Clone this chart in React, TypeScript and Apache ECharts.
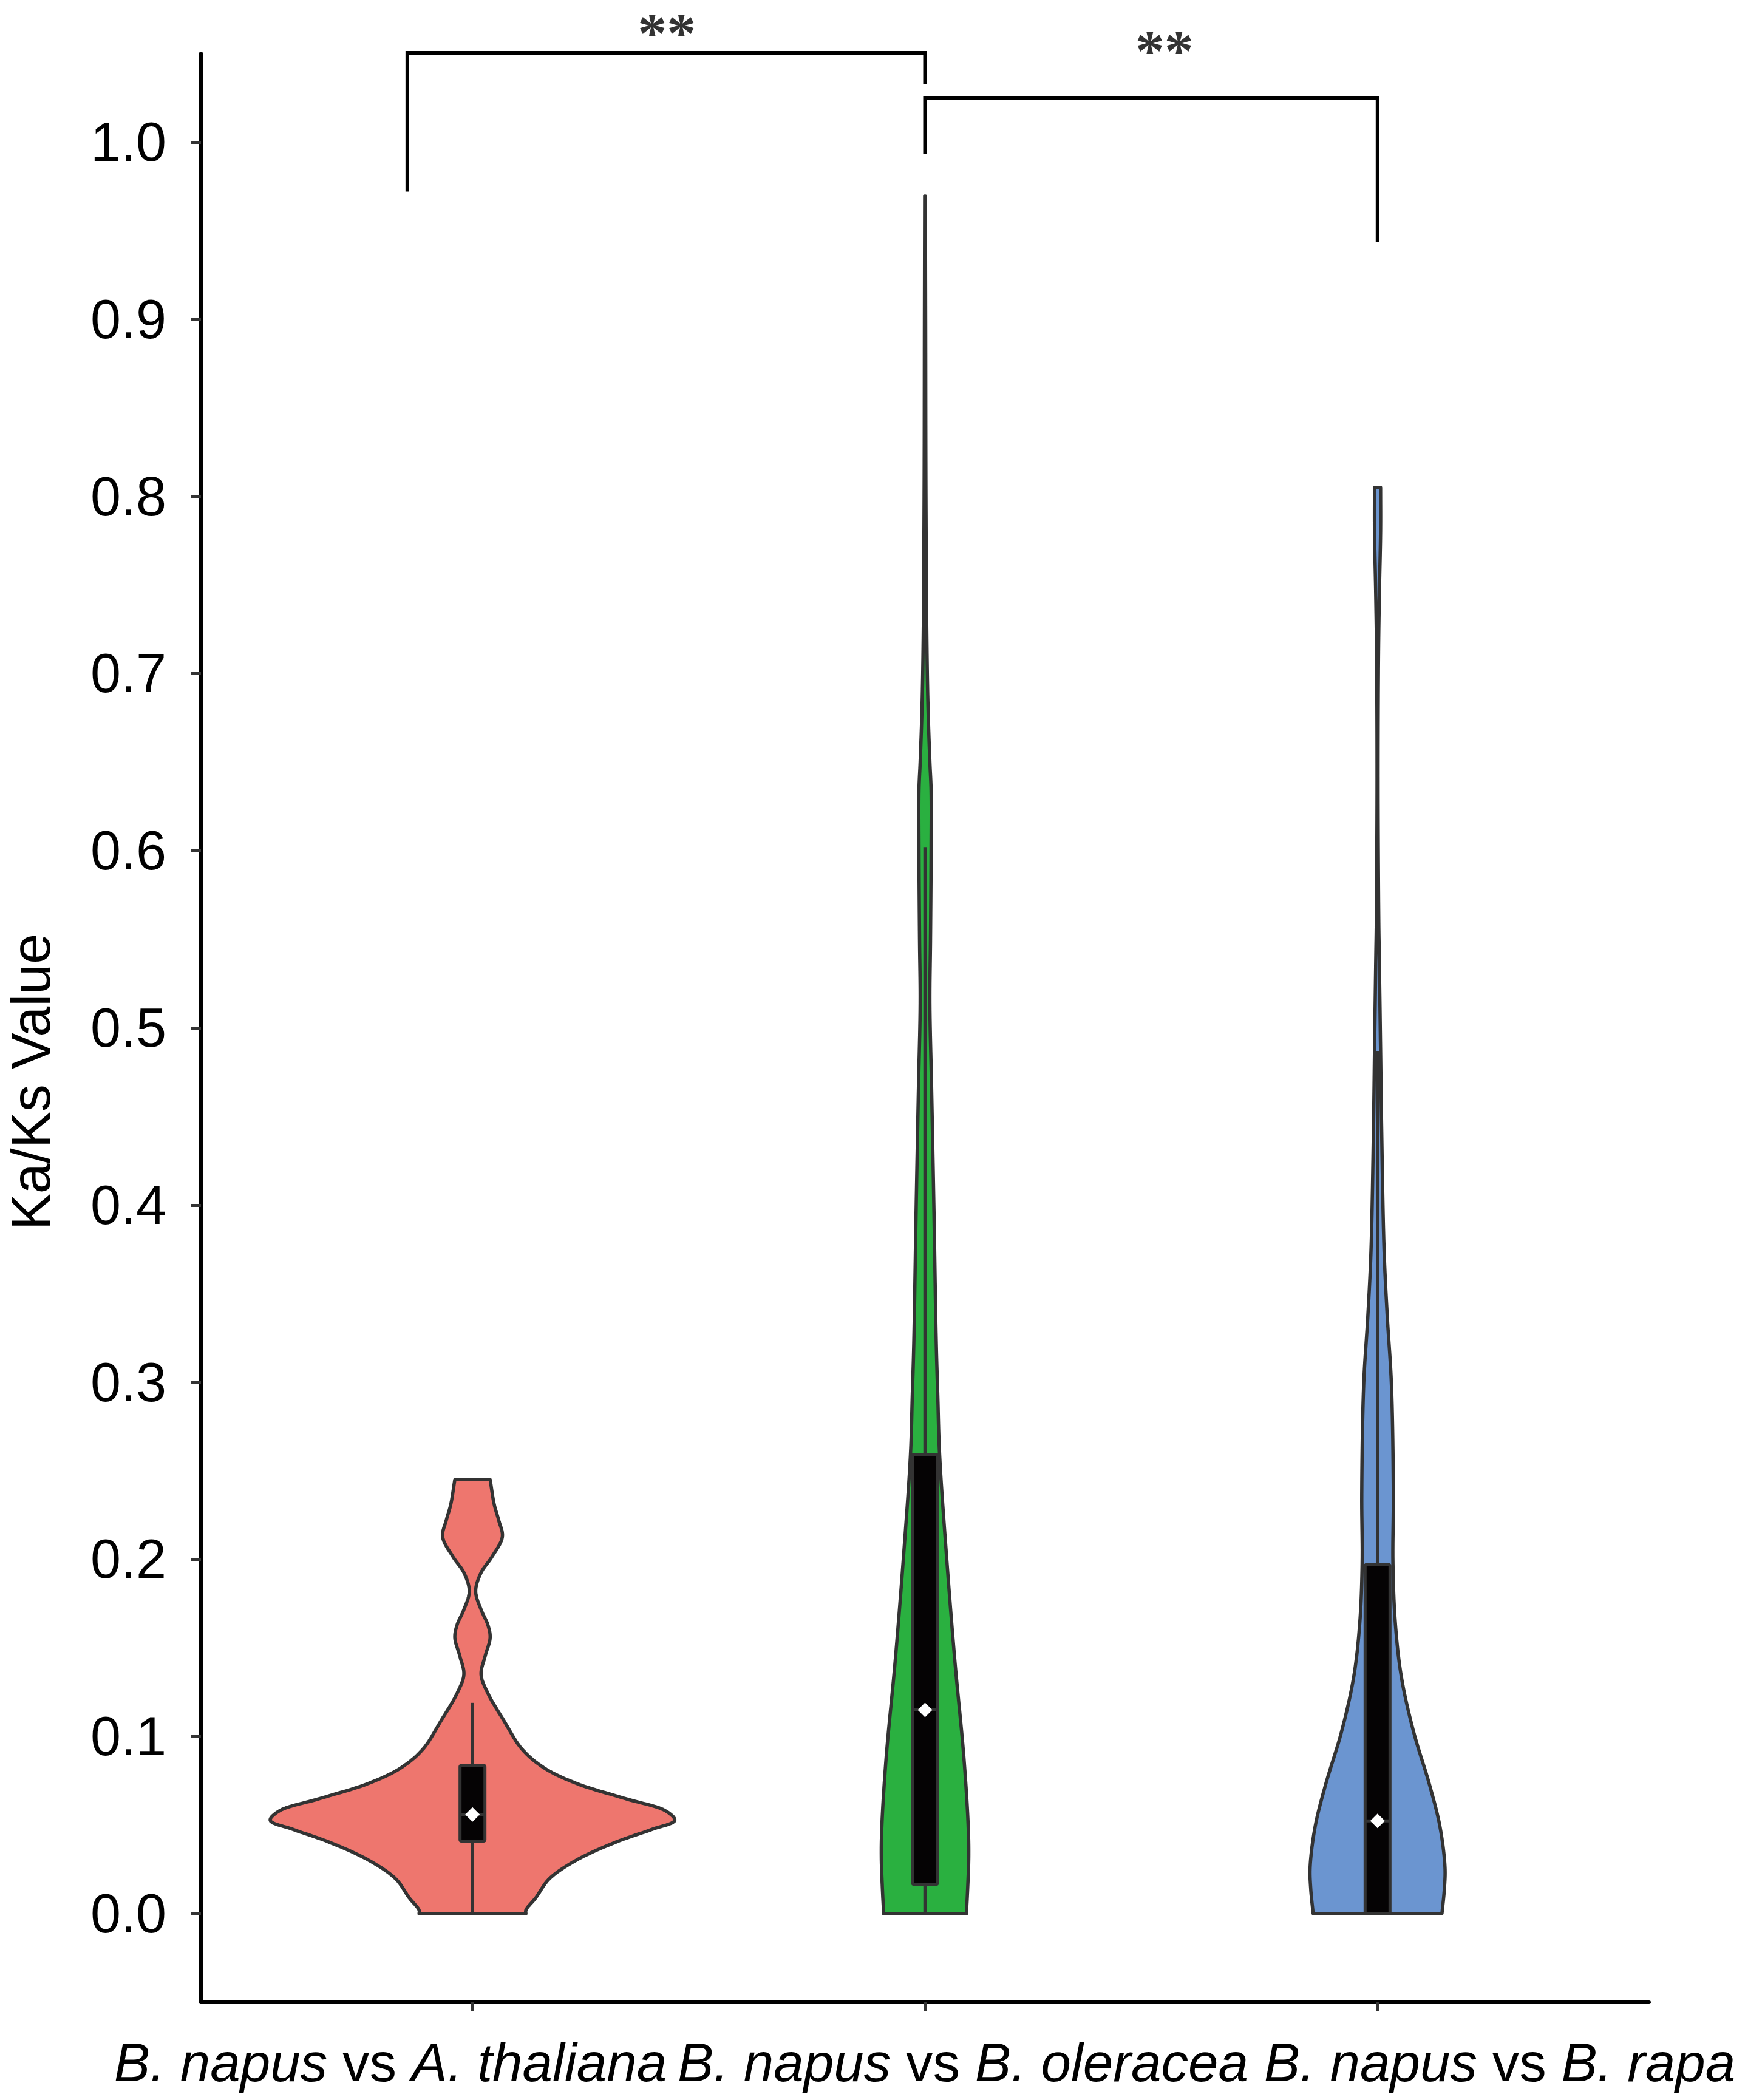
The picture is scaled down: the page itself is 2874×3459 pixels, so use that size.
import React, { useEffect, useRef } from 'react';
import * as echarts from 'echarts';

// ---------- DATA ----------
const categories = ['B. napus vs A. thaliana', 'B. napus vs B. oleracea', 'B. napus vs B. rapa'];
const categoryPositions = [1, 2, 3];
const yTickValues = [0, 0.1, 0.2, 0.3, 0.4, 0.5, 0.6, 0.7, 0.8, 0.9, 1.0];
const yAxisTitle = 'Ka/Ks Value';

// violin outlines: Ka/Ks value and half-width (x-axis units)
const redY = [0, 0.002, 0.009, 0.0195, 0.030, 0.0405, 0.0476, 0.0527, 0.058, 0.065, 0.0737, 0.0825, 0.093, 0.1087, 0.1244, 0.135, 0.1454, 0.1558, 0.163, 0.1716, 0.182, 0.1925, 0.2014, 0.2127, 0.222, 0.231, 0.245];
const redHalfWidth = [0.118, 0.118, 0.140, 0.169, 0.228, 0.318, 0.397, 0.447, 0.427, 0.337, 0.228, 0.157, 0.109, 0.070, 0.034, 0.019, 0.028, 0.039, 0.034, 0.019, 0.007, 0.019, 0.043, 0.066, 0.058, 0.048, 0.039];

const greenY = [0, 0.013, 0.032, 0.05, 0.088, 0.143, 0.199, 0.259, 0.292, 0.322, 0.394, 0.466, 0.514, 0.55, 0.60, 0.634, 0.65, 0.68, 0.72, 0.80, 0.90, 0.9695];
const greenHalfWidth = [0.0913, 0.094, 0.0966, 0.0953, 0.0859, 0.0658, 0.0483, 0.0322, 0.0282, 0.0248, 0.0199, 0.0145, 0.0107, 0.0121, 0.0134, 0.0134, 0.0107, 0.0067, 0.004, 0.002, 0.0013, 0.0007];

const blueY = [0, 0.0141, 0.0264, 0.0493, 0.0723, 0.1027, 0.1334, 0.164, 0.1976, 0.237, 0.299, 0.337, 0.374, 0.448, 0.487, 0.54, 0.559, 0.634, 0.708, 0.745, 0.78, 0.805];
const blueHalfWidth = [0.1423, 0.1477, 0.149, 0.1378, 0.1154, 0.0796, 0.0528, 0.0393, 0.034, 0.0349, 0.0306, 0.0215, 0.0145, 0.0087, 0.0067, 0.0038, 0.0027, 0.0011, 0.002, 0.004, 0.0067, 0.0067];

// box plot statistics per category
const whiskerLow = [0, 0, 0];
const q1 = [0.041, 0.0165, 0];
const median = [0.056, 0.115, 0.0524];
const q3 = [0.0837, 0.2593, 0.197];
const whiskerHigh = [0.119, 0.602, 0.487];

// significance brackets
const bracket1X = [0.856, 0.856, 2, 2];
const bracket1Y = [0.972, 1.0503, 1.0503, 1.0325];
const bracket2X = [2, 2, 3, 3];
const bracket2Y = [0.9932, 1.025, 1.025, 0.9435];
const starLabels = ['**', '**'];
const starX = [1.4295, 2.529];
const starY = [1.0616, 1.0517];

// ---------- STYLE / LAYOUT ----------
const fillColors = ['#EE766E', '#2AB040', '#6B95D0'];
const SANS = '"Liberation Sans", Arial, Helvetica, sans-serif';
const SERIF = '"Liberation Serif", "Times New Roman", serif';
const W = 2874;
const H = 3459;
const labelCenters = [643, 1586, 2470];

const violinY = [redY, greenY, blueY];
const violinW = [redHalfWidth, greenHalfWidth, blueHalfWidth];

function splitLabel(label: string) {
  const idx = label.indexOf(' vs ');
  const a = label.slice(0, idx);
  const b = label.slice(idx + 4);
  return `{i|${a}} {n|vs} {i|${b}}`;
}

// centripetal Catmull-Rom rendering of an outline through the given pixel points
function smoothCurve(pts: number[][], steps: number): number[][] {
  const n = pts.length;
  if (n < 3) return pts.slice();
  const out: number[][] = [pts[0]];
  const dist = (a: number[], b: number[]) => Math.max(Math.pow(Math.hypot(b[0] - a[0], b[1] - a[1]), 0.5), 1e-4);
  for (let i = 0; i < n - 1; i++) {
    const p0 = i === 0 ? [2 * pts[0][0] - pts[1][0], 2 * pts[0][1] - pts[1][1]] : pts[i - 1];
    const p1 = pts[i];
    const p2 = pts[i + 1];
    const p3 = i + 2 < n ? pts[i + 2] : [2 * pts[n - 1][0] - pts[n - 2][0], 2 * pts[n - 1][1] - pts[n - 2][1]];
    const t0 = 0;
    const t1 = t0 + dist(p0, p1);
    const t2 = t1 + dist(p1, p2);
    const t3 = t2 + dist(p2, p3);
    for (let s = 1; s <= steps; s++) {
      const t = t1 + ((t2 - t1) * s) / steps;
      const lerp = (a: number[], b: number[], ta: number, tb: number) => {
        const u = (t - ta) / (tb - ta);
        return [a[0] + (b[0] - a[0]) * u, a[1] + (b[1] - a[1]) * u];
      };
      const A1 = lerp(p0, p1, t0, t1);
      const A2 = lerp(p1, p2, t1, t2);
      const A3 = lerp(p2, p3, t2, t3);
      const B1 = lerp(A1, A2, t0, t2);
      const B2 = lerp(A2, A3, t1, t3);
      out.push(lerp(B1, B2, t1, t2));
    }
  }
  return out;
}

export default function App() {
  const ref = useRef<HTMLDivElement>(null);

  useEffect(() => {
    document.body.style.margin = '0';
    document.body.style.overflow = 'hidden';
    if (!ref.current) return;
    const chart = echarts.init(ref.current, undefined, { renderer: 'svg' });

    const boxHalf = 0.0275;

    const option: any = {
      animation: false,
      backgroundColor: '#ffffff',
      grid: { left: 331, right: W - 2716, top: 88, bottom: H - 3298, containLabel: false, outerBoundsMode: 'none' },
      xAxis: {
        type: 'value',
        min: 0.4,
        max: 3.6,
        axisLine: { show: true, onZero: false, lineStyle: { color: '#000', width: 6 } },
        axisTick: { show: true, customValues: categoryPositions, length: 15, lineStyle: { color: '#333', width: 4 } },
        axisLabel: { show: false },
        splitLine: { show: false },
      },
      yAxis: {
        type: 'value',
        min: -0.05,
        max: 1.05,
        axisLine: { show: true, onZero: false, lineStyle: { color: '#000', width: 6 } },
        axisTick: { show: true, customValues: yTickValues, length: 16, lineStyle: { color: '#333', width: 5 } },
        axisLabel: {
          show: true,
          customValues: yTickValues,
          formatter: (v: number) => v.toFixed(1),
          fontSize: 90,
          fontFamily: SANS,
          color: '#000',
          margin: 57,
          padding: [24, 0, 0, 0],
        },
        splitLine: { show: false },
      },
      series: [
        {
          type: 'custom',
          clip: false,
          data: categoryPositions.map((c) => [c, 0]),
          encode: { x: 0, y: 1 },
          renderItem: (params: any, api: any) => {
            const i = params.dataIndex;
            const cx = categoryPositions[i];
            const ys = violinY[i];
            const ws = violinW[i];
            const px = api.coord([cx, 0])[0];
            const rightRaw = ys.map((y, k) => api.coord([cx + ws[k], y]));
            const right = smoothCurve(rightRaw, 10).map((p) => [Math.max(p[0], px), p[1]]);
            const left = right.map((p) => [2 * px - p[0], p[1]]).reverse();
            const pts = right.concat(left);
            const tl = api.coord([cx - boxHalf, q3[i]]);
            const br = api.coord([cx + boxHalf, q1[i]]);
            const yWL = api.coord([cx, whiskerLow[i]])[1];
            const yWH = api.coord([cx, whiskerHigh[i]])[1];
            const yMed = api.coord([cx, median[i]])[1];
            const d = 12;
            return {
              type: 'group',
              children: [
                {
                  type: 'polygon',
                  shape: { points: pts },
                  style: { fill: fillColors[i], stroke: '#333333', lineWidth: 5.5, lineJoin: 'round' },
                },
                {
                  type: 'line',
                  shape: { x1: px, y1: yWL, x2: px, y2: br[1] },
                  style: { stroke: '#333333', lineWidth: 5.5 },
                },
                {
                  type: 'line',
                  shape: { x1: px, y1: tl[1], x2: px, y2: yWH },
                  style: { stroke: '#333333', lineWidth: 5.5 },
                },
                {
                  type: 'rect',
                  shape: { x: tl[0], y: tl[1], width: br[0] - tl[0], height: br[1] - tl[1], r: 2 },
                  style: { fill: '#050304', stroke: '#333333', lineWidth: 5 },
                },
                {
                  type: 'line',
                  shape: { x1: tl[0], y1: yMed, x2: br[0], y2: yMed },
                  style: { stroke: '#333333', lineWidth: 5 },
                },
                {
                  type: 'polygon',
                  shape: { points: [[px - d, yMed], [px, yMed - d], [px + d, yMed], [px, yMed + d]] },
                  style: { fill: '#ffffff' },
                },
              ],
            };
          },
        },
        {
          type: 'line',
          clip: false,
          symbol: 'none',
          data: bracket1X.map((x, k) => [x, bracket1Y[k]]),
          lineStyle: { color: '#000', width: 6, cap: 'butt', join: 'miter' },
          silent: true,
        },
        {
          type: 'line',
          clip: false,
          symbol: 'none',
          data: bracket2X.map((x, k) => [x, bracket2Y[k]]),
          lineStyle: { color: '#000', width: 6, cap: 'butt', join: 'miter' },
          silent: true,
        },
        {
          type: 'scatter',
          clip: false,
          symbolSize: 0.001,
          itemStyle: { color: 'rgba(0,0,0,0)' },
          data: starX.map((x, k) => [x, starY[k]]),
          label: {
            show: true,
            position: 'inside',
            formatter: (p: any) => starLabels[p.dataIndex],
            fontFamily: SERIF,
            fontSize: 96,
            fontWeight: 'bold',
            lineHeight: 56,
            color: '#000',
          },
          silent: true,
        },
      ],
      graphic: [
        ...categories.map((c, k) => ({
          type: 'text',
          x: labelCenters[k],
          y: 3397,
          style: {
            text: splitLabel(c),
            rich: {
              i: { fontStyle: 'italic', fontSize: 89, fontFamily: SANS, fill: '#000' },
              n: { fontSize: 89, fontFamily: SANS, fill: '#000' },
            },
            fontSize: 89,
            fontFamily: SANS,
            fill: '#000',
            align: 'center',
            verticalAlign: 'middle',
          },
        })),
        {
          type: 'text',
          x: 51,
          y: 1782,
          rotation: Math.PI / 2,
          style: {
            text: yAxisTitle,
            fontSize: 90,
            fontFamily: SANS,
            fill: '#000',
            align: 'center',
            verticalAlign: 'middle',
          },
        },
      ],
    };

    chart.setOption(option);
    return () => chart.dispose();
  }, []);

  return <div ref={ref} style={{ width: W, height: H }} />;
}
